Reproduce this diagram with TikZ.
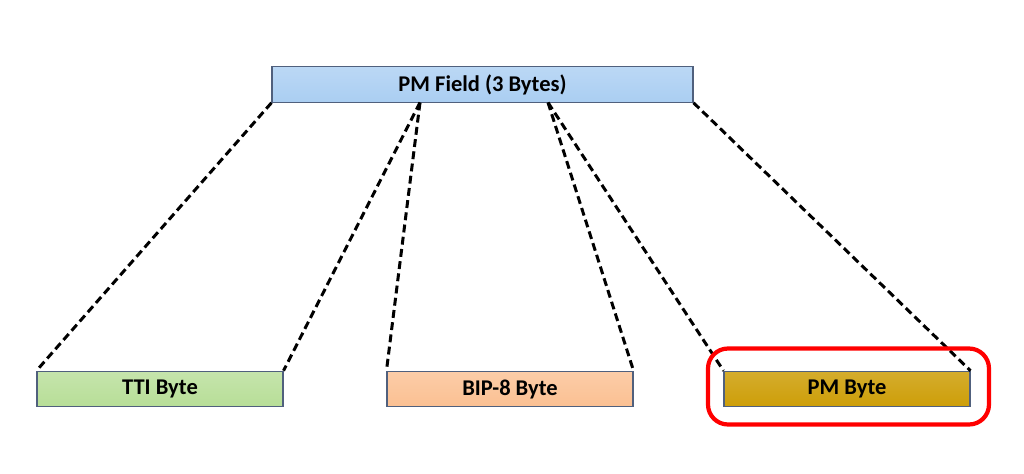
\documentclass[tikz,border=0pt]{standalone}
\usepackage{fontspec}
\setmainfont{Carlito}
\usepackage{tikz}

\definecolor{fieldblue}{RGB}{170,206,242}
\definecolor{ttigreen}{RGB}{183,222,151}
\definecolor{biporange}{RGB}{251,192,146}
\definecolor{pmgold}{RGB}{205,158,8}
\definecolor{edgegray}{RGB}{80,96,125}

\tikzset{
    bytebox/.style={draw=edgegray, line width=0.6pt, minimum height=0.71cm,
        inner sep=0pt, font=\fontsize{12.8}{14}\selectfont\bfseries},
    link/.style={line width=1.7pt, dash pattern=on 4.5pt off 2.5pt}
}

\begin{document}
\begin{tikzpicture}
    \useasboundingbox (0,0) rectangle (20.48,-9.46);

    \node[bytebox, top color=fieldblue!80!white, bottom color=fieldblue, minimum width=8.42cm] (field) at (9.65,-1.69) {PM Field (3 Bytes)};
    \node[bytebox, top color=ttigreen!80!white, bottom color=ttigreen, minimum width=4.92cm] (tti) at (3.20,-7.78) {TTI Byte};
    \node[bytebox, top color=biporange!80!white, bottom color=biporange, minimum width=4.92cm] (bip) at (10.20,-7.78) {BIP-8 Byte};
    \node[bytebox, top color=pmgold!85!white, bottom color=pmgold, minimum width=4.92cm] (pm) at (16.94,-7.78) {PM Byte};

    \coordinate (F1) at (8.40,-2.05);
    \coordinate (F2) at (10.96,-2.05);

    \draw[link] (field.south west) -- (tti.north west);
    \draw[link] (F1) -- (tti.north east);
    \draw[link] (F1) -- (bip.north west);
    \draw[link] (F2) -- (bip.north east);
    \draw[link] (F2) -- (pm.north west);
    \draw[link] (field.south east) -- (pm.north east);

%highlight
    \draw[red, line width=2.4pt, rounded corners=0.4cm] (14.16,-6.97) rectangle (19.78,-8.49);

\end{tikzpicture}
\end{document}
